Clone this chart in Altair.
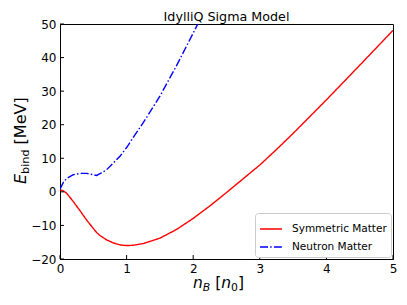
import altair as alt
import pandas as pd

# ---- data ----
sym_x = [0, 0.05, 0.1, 0.2, 0.3, 0.4, 0.5, 0.55, 0.6, 0.7, 0.8, 0.9, 1.0, 1.1, 1.25,
         1.5, 1.75, 2.0, 2.25, 2.5, 2.75, 3.0, 3.25, 3.5, 4.0, 4.5, 5.0]
sym_y = [0.6, 0.3, -0.4, -2.9, -5.6, -8.4, -10.9, -12.1, -13.0, -14.3, -15.2, -15.8, -16.0,
         -15.9, -15.4, -13.8, -11.2, -7.9, -4.2, -0.2, 3.9, 8.0, 12.6, 17.4, 27.4, 37.7, 48.1]
neu_x = [0, 0.05, 0.1, 0.2, 0.3, 0.4, 0.5, 0.55, 0.6, 0.7, 0.8, 0.9, 1.0, 1.1, 1.25,
         1.5, 1.75, 2.0, 2.1]
neu_y = [0.8, 2.8, 4.0, 5.1, 5.5, 5.5, 5.1, 4.9, 5.4, 6.6, 8.6, 10.6, 13.2, 16.2, 20.6,
         28.5, 37.6, 47.3, 51.2]
series_names = ["Symmetric Matter", "Neutron Matter"]
series_colors = ["#ff0000", "#0000ff"]
x_ticks = [0, 1, 2, 3, 4, 5]
y_ticks = [-20, -10, 0, 10, 20, 30, 40, 50]
title_text = "IdylliQ Sigma Model"

W, H = 333, 235
FONT = "DejaVu Sans"

df = pd.concat([
    pd.DataFrame({"x": sym_x, "y": sym_y, "series": series_names[0], "order": range(len(sym_x))}),
    pd.DataFrame({"x": neu_x, "y": neu_y, "series": series_names[1], "order": range(len(neu_x))}),
])

xscale = alt.Scale(domain=[0, 5], nice=False, zero=False)
yscale = alt.Scale(domain=[-20, 50], nice=False, zero=False)

axis_common = dict(format="d", title=None, grid=False, ticks=False, labelPadding=4,
                   labelFlush=False, labelOverlap=False, domainColor="black",
                   labelFont=FONT, labelFontSize=12, labelColor="black")
xaxis = alt.Axis(values=x_ticks, **axis_common)
yaxis = alt.Axis(values=y_ticks, **axis_common)

lines = alt.Chart(df).mark_line(strokeWidth=1.4, clip=True).encode(
    x=alt.X("x:Q", scale=xscale, axis=xaxis),
    y=alt.Y("y:Q", scale=yscale, axis=yaxis),
    color=alt.Color("series:N",
                    scale=alt.Scale(domain=series_names, range=series_colors),
                    legend=alt.Legend(title=None, orient="bottom-right", offset=2,
                                      strokeColor="#cccccc", cornerRadius=3, padding=4,
                                      fillColor="white", labelFont=FONT, labelFontSize=10.5,
                                      labelColor="black", symbolType="stroke",
                                      symbolStrokeWidth=1.5, symbolSize=484, labelOffset=9,
                                      rowPadding=0)),
    strokeDash=alt.StrokeDash("series:N",
                              scale=alt.Scale(domain=series_names,
                                              range=[[1, 0], [8, 2.2, 1.5, 2.2]]),
                              legend=None),
    order="order:Q",
)

xt = alt.Chart(pd.DataFrame({"x": x_ticks})).mark_rule(color="black", strokeWidth=1).encode(
    x=alt.X("x:Q", scale=xscale, axis=xaxis), y=alt.value(H), y2=alt.value(H - 4))
yt = alt.Chart(pd.DataFrame({"y": y_ticks})).mark_rule(color="black", strokeWidth=1).encode(
    y=alt.Y("y:Q", scale=yscale, axis=yaxis), x=alt.value(0), x2=alt.value(4))


def label(txt, x, y, size, italic=False, angle=None, align="left"):
    kw = dict(font=FONT, fontSize=size, align=align, baseline="alphabetic", color="black")
    if italic:
        kw["fontStyle"] = "italic"
    if angle is not None:
        kw["angle"] = angle
    return alt.Chart(pd.DataFrame({"t": [txt]})).mark_text(**kw).encode(
        text="t:N", x=alt.value(x), y=alt.value(y))

# title
ttl = label(title_text, W / 2, -3.3, 12.7, align="center")
# x-axis title: n_B [n_0]
xb = H + 28.7
xlab = [
    label("n", 133, xb, 15.5, True),
    label("B", 142.8, xb + 3, 10.85, True),
    label("[", 155.2, xb, 15.5),
    label("n", 161.3, xb, 15.5, True),
    label("0", 171.1, xb + 3, 10.85),
    label("]", 178, xb, 15.5),
]
# y-axis title: E_bind [MeV]
ylab = [
    label("E", -34.3, 160, 16, True, 270),
    label("bind", -31, 149.9, 11.2, False, 270),
    label("[MeV]", -34.3, 120.4, 16, False, 270),
]

chart = alt.layer(lines, xt, yt, ttl, *xlab, *ylab).properties(
    width=W, height=H,
    autosize=alt.AutoSizeParams(type="none"),
    padding={"left": 52, "top": 16, "right": 6, "bottom": 46},
).configure_view(stroke="black", strokeWidth=1)

chart.save("out.html", embed_options={"renderer": "svg", "actions": False})
